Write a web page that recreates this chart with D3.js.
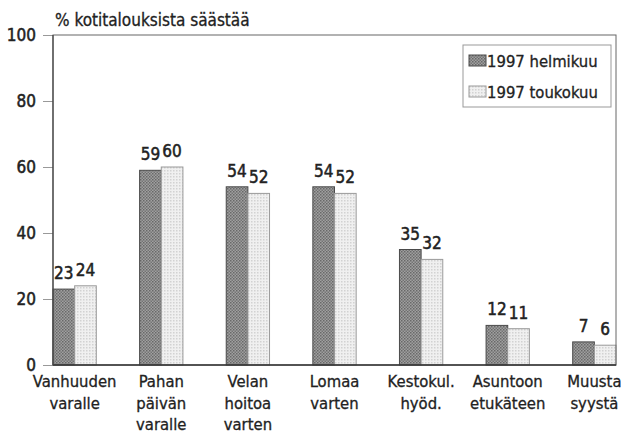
<!DOCTYPE html>
<html>
<head>
<meta charset="utf-8">
<script src="https://cdn.jsdelivr.net/npm/d3@7"></script>
<style>
  body { margin: 0; background: #fff; }
  svg text { font-family: "DejaVu Sans Condensed", "DejaVu Sans", sans-serif; font-stretch: condensed; fill: #222; stroke: #222; stroke-width: 0.3px; }
</style>
</head>
<body>
<svg id="chart" width="621" height="437"></svg>
<script>
// values (% of households saving for each purpose)
const categories = [
    ["Vanhuuden", "varalle"],
    ["Pahan", "päivän", "varalle"],
    ["Velan", "hoitoa", "varten"],
    ["Lomaa", "varten"],
    ["Kestokul.", "hyöd."],
    ["Asuntoon", "etukäteen"],
    ["Muusta", "syystä"]
];
const seriesNames = ["1997 helmikuu", "1997 toukokuu"];
const helmikuu = [23, 59, 54, 54, 35, 12, 7];
const toukokuu = [24, 60, 52, 52, 32, 11, 6];
const yTicks = [0, 20, 40, 60, 80, 100];
const yTitle = "% kotitalouksista säästää";

let svg = d3.select("#chart");
let margin = { top: 35, right: 5, bottom: 72, left: 53 };
let w = 621, h = 437;
let width = w - margin.left - margin.right;
let height = h - margin.top - margin.bottom;

// hatched fills, like the printed screen tones
let defs = svg.append("defs");
let dark = defs.append("pattern").attr("id", "darkFill")
    .attr("patternUnits", "userSpaceOnUse").attr("width", 3).attr("height", 3);
dark.append("rect").attr("width", 3).attr("height", 3).attr("fill", "#a0a0a0");
dark.append("rect").attr("width", 1.5).attr("height", 1.5).attr("fill", "#686868");
dark.append("rect").attr("x", 1.5).attr("y", 1.5).attr("width", 1.5).attr("height", 1.5).attr("fill", "#747474");
let light = defs.append("pattern").attr("id", "lightFill")
    .attr("patternUnits", "userSpaceOnUse").attr("width", 3).attr("height", 3);
light.append("rect").attr("width", 3).attr("height", 3).attr("fill", "#f0f0f0");
light.append("rect").attr("width", 1.5).attr("height", 1.5).attr("fill", "#d2d2d2");
let fills = ["url(#darkFill)", "url(#lightFill)"];
let strokes = ["#4a4a4a", "#9a9a9a"];

let body = svg.append("g").attr("transform", `translate(${margin.left},${margin.top})`);

let idx = d3.range(categories.length);
let xScale = d3.scaleBand().domain(idx).range([0, width]).paddingInner(0.5).paddingOuter(0);
let xSub = d3.scaleBand().domain([0, 1]).range([0, xScale.bandwidth()]);
let yScale = d3.scaleLinear().domain([0, 100]).range([height, 0]);

// y axis with ticks outside the frame
let yAxis = body.append("g").call(d3.axisLeft(yScale).tickValues(yTicks).tickSize(10).tickPadding(7));
yAxis.select(".domain").remove();
yAxis.selectAll(".tick line").attr("stroke", "#999");
yAxis.selectAll(".tick text").style("font-size", "17px").style("stroke-width", "0.5px").attr("fill", "#222");

// bars
let series = [helmikuu, toukokuu];
series.forEach(function(vals, s) {
    body.append("g").selectAll("rect")
        .data(vals)
        .enter().append("rect")
        .attr("x", (d, i) => xScale(i) + xSub(s))
        .attr("y", d => yScale(d))
        .attr("width", xSub.bandwidth())
        .attr("height", d => height - yScale(d))
        .attr("fill", fills[s])
        .attr("stroke", strokes[s])
        .attr("stroke-width", 1);
    body.append("g").selectAll("text")
        .data(vals)
        .enter().append("text")
        .attr("x", (d, i) => xScale(i) + xSub(s) + xSub.bandwidth() / 2)
        .attr("y", d => yScale(d) - 10)
        .attr("text-anchor", "middle")
        .style("font-size", "17px")
        .style("stroke-width", "0.5px")
        .text(d => d);
});

// frame
body.append("rect").attr("width", width).attr("height", height)
    .attr("fill", "none").attr("stroke", "#666").attr("stroke-width", 1);
body.append("line").attr("x1", 0).attr("x2", width).attr("y1", height).attr("y2", height)
    .attr("stroke", "#333").attr("stroke-width", 1.5);
body.append("line").attr("x1", 0).attr("x2", 0).attr("y1", 0).attr("y2", height)
    .attr("stroke", "#444").attr("stroke-width", 1.2);

// category labels, several lines each
let catLabels = body.append("g").selectAll("text")
    .data(categories)
    .enter().append("text")
    .attr("text-anchor", "middle")
    .attr("transform", (d, i) => `translate(${xScale(i) + xScale.bandwidth() / 2},${height + 22})`)
    .style("font-size", "16.5px");
catLabels.selectAll("tspan")
    .data(d => d)
    .enter().append("tspan")
    .attr("x", 0)
    .attr("y", (d, j) => j * 21.5)
    .text(d => d);

// title over the y axis
svg.append("text").attr("x", 55).attr("y", 26)
    .style("font-size", "17px").text(yTitle);

// legend
let legend = svg.append("g").attr("transform", "translate(463,45)");
legend.append("rect").attr("width", 148).attr("height", 62)
    .attr("fill", "#fff").attr("stroke", "#999");
seriesNames.forEach(function(name, s) {
    let g = legend.append("g").attr("transform", `translate(6,${10 + s * 31})`);
    g.append("rect").attr("width", 17).attr("height", 11)
        .attr("fill", fills[s]).attr("stroke", strokes[s]);
    g.append("text").attr("x", 18).attr("y", 11.5)
        .style("font-size", "16.5px").text(name);
});
</script>
</body>
</html>
